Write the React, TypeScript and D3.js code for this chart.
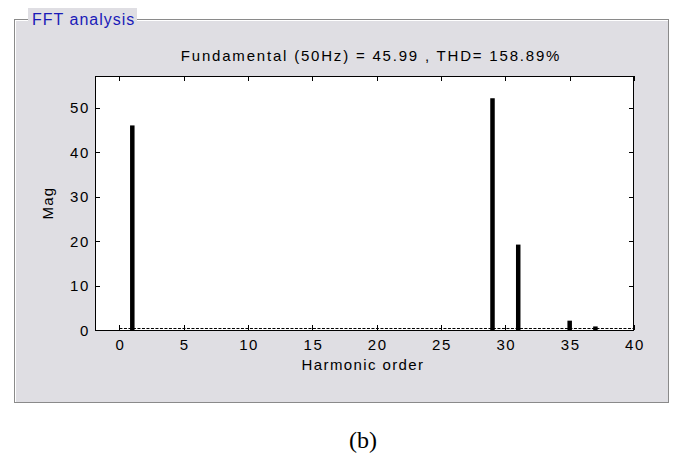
import React from "react";
import * as d3 from "d3";

const harmonics = [1, 29, 31, 35, 37];
const magnitudes = [45.99, 52.1, 19.2, 2.1, 0.8];
const xTicks = [0, 5, 10, 15, 20, 25, 30, 35, 40];
const yTicks = [0, 10, 20, 30, 40, 50];
const titleText = "Fundamental (50Hz) = 45.99 , THD= 158.89%";
const panelLabel = "FFT analysis";
const xLabel = "Harmonic order";
const yLabel = "Mag";
const caption = "(b)";

const W = 675;
const H = 469;
const plot = { left: 95, right: 634, top: 76, bottom: 330 };
const panel = { left: 14, right: 668, top: 19, bottom: 402 };
const FONT = "'Liberation Sans', Arial, sans-serif";

export default function App() {
  const x = d3.scaleLinear().domain([-1.9, 40]).range([plot.left, plot.right]);
  const y = d3.scaleLinear().domain([0, 57.1]).range([plot.bottom, plot.top]);
  const barW = 4.5;
  const tickLen = 5;

  return (
    <svg
      width={W}
      height={H}
      viewBox={`0 0 ${W} ${H}`}
      style={{ position: "absolute", left: 0, top: 0, background: "#fff" }}
    >
      {/* panel */}
      <rect
        x={panel.left}
        y={panel.top}
        width={panel.right - panel.left}
        height={panel.bottom - panel.top}
        fill="#dfdee3"
      />
      <rect
        x={panel.left + 1.5}
        y={panel.top + 1.5}
        width={panel.right - panel.left}
        height={panel.bottom - panel.top}
        fill="none"
        stroke="#ffffff"
        strokeWidth={1}
      />
      <rect
        x={panel.left + 0.5}
        y={panel.top + 0.5}
        width={panel.right - panel.left}
        height={panel.bottom - panel.top}
        fill="none"
        stroke="#8a8a8a"
        strokeWidth={1}
      />
      {/* panel label */}
      <rect x={28} y={8} width={109} height={19} fill="#dfdee3" />
      <text
        x={32}
        y={25}
        fontFamily={FONT}
        fontSize={16}
        letterSpacing={1}
        fill="#1a1ab8"
      >
        {panelLabel}
      </text>

      {/* title */}
      <text
        x={371}
        y={61}
        textAnchor="middle"
        fontFamily={FONT}
        fontSize={15}
        letterSpacing={1.8}
        fill="#000"
      >
        {titleText}
      </text>

      {/* plot area */}
      <rect
        x={plot.left}
        y={plot.top}
        width={plot.right - plot.left}
        height={plot.bottom - plot.top}
        fill="#fff"
      />

      {/* dashed baseline */}
      <line
        x1={x(0)}
        x2={x(40)}
        y1={y(0) - 1.5}
        y2={y(0) - 1.5}
        stroke="#000"
        strokeWidth={1}
        strokeDasharray="3,1.5"
      />

      {/* bars */}
      {harmonics.map((h, i) => (
        <rect
          key={h}
          x={x(h) - barW / 2}
          y={y(magnitudes[i])}
          width={barW}
          height={y(0) - y(magnitudes[i])}
          fill="#000"
        />
      ))}

      {/* frame */}
      <rect
        x={plot.left + 0.5}
        y={plot.top + 0.5}
        width={plot.right - plot.left - 1}
        height={plot.bottom - plot.top}
        fill="none"
        stroke="#000"
        strokeWidth={1}
      />

      {/* x ticks */}
      {xTicks.map((t) => (
        <g key={"x" + t}>
          <line
            x1={Math.round(x(t)) + 0.5}
            x2={Math.round(x(t)) + 0.5}
            y1={plot.bottom}
            y2={plot.bottom - tickLen}
            stroke="#000"
          />
          <line
            x1={Math.round(x(t)) + 0.5}
            x2={Math.round(x(t)) + 0.5}
            y1={plot.top}
            y2={plot.top + tickLen}
            stroke="#000"
          />
          <text
            x={x(t) + 1}
            y={350}
            textAnchor="middle"
            fontFamily={FONT}
            fontSize={15}
            letterSpacing={1.6}
            fill="#000"
          >
            {t}
          </text>
        </g>
      ))}

      {/* y ticks */}
      {yTicks.map((t) => (
        <g key={"y" + t}>
          <line
            x1={plot.left}
            x2={plot.left + tickLen}
            y1={Math.round(y(t)) + 0.5}
            y2={Math.round(y(t)) + 0.5}
            stroke="#000"
          />
          <line
            x1={plot.right}
            x2={plot.right - tickLen}
            y1={Math.round(y(t)) + 0.5}
            y2={Math.round(y(t)) + 0.5}
            stroke="#000"
          />
          <text
            x={90}
            y={y(t) + 5.5}
            textAnchor="end"
            fontFamily={FONT}
            fontSize={15}
            letterSpacing={1.6}
            fill="#000"
          >
            {t}
          </text>
        </g>
      ))}

      {/* axis labels */}
      <text
        x={363}
        y={370}
        textAnchor="middle"
        fontFamily={FONT}
        fontSize={15}
        letterSpacing={1.4}
        fill="#000"
      >
        {xLabel}
      </text>
      <text
        transform={`translate(53, ${(plot.top + plot.bottom) / 2}) rotate(-90)`}
        textAnchor="middle"
        fontFamily={FONT}
        fontSize={15}
        letterSpacing={1.2}
        fill="#000"
      >
        {yLabel}
      </text>

      {/* caption */}
      <text
        x={363}
        y={448}
        textAnchor="middle"
        fontFamily="'Liberation Serif', 'Times New Roman', serif"
        fontSize={24}
        fill="#000"
      >
        {caption}
      </text>
    </svg>
  );
}
